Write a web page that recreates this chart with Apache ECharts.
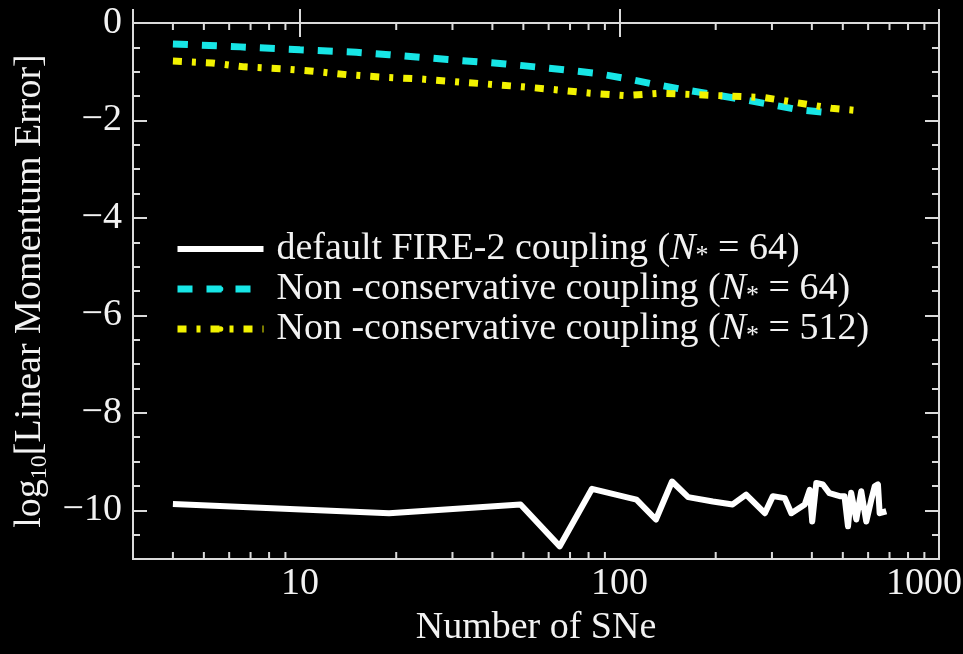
<!DOCTYPE html>
<html>
<head>
<meta charset="utf-8">
<script src="https://cdn.jsdelivr.net/npm/echarts@6/dist/echarts.min.js"></script>
<style>
  html, body { margin: 0; padding: 0; background: #000; }
  #chart { width: 963px; height: 654px; }
</style>
</head>
<body>
<div id="chart"></div>
<script>
// default FIRE-2 coupling, N* = 64
const fireX = [4, 19, 49, 65, 82, 113, 130, 146, 164, 196, 226, 249, 285, 302, 329, 345, 380, 394, 401, 413, 433, 454, 489, 506, 519, 531, 551, 571, 592, 614, 629, 644, 652, 684];
const fireY = [-9.87, -10.06, -9.88, -10.74, -9.56, -9.78, -10.19, -9.41, -9.73, -9.82, -9.88, -9.68, -10.06, -9.71, -9.75, -10.06, -9.88, -9.58, -10.23, -9.44, -9.47, -9.65, -9.71, -9.71, -10.33, -9.64, -10.19, -9.61, -10.23, -9.78, -9.51, -9.47, -10.06, -10.02];

// non-conservative coupling, N* = 64
const nc64X = [4, 6.5, 10, 15, 19, 29, 44, 67, 84, 103, 127, 157, 194, 239, 295, 364, 470];
const nc64Y = [-0.43, -0.49, -0.55, -0.60, -0.65, -0.75, -0.84, -0.96, -1.03, -1.13, -1.25, -1.36, -1.46, -1.56, -1.67, -1.78, -1.85];

// non-conservative coupling, N* = 512
const nc512X = [4, 5.3, 6.7, 8.7, 11, 14, 18, 24, 30, 38, 50, 63, 81, 104, 134, 173, 220, 284, 362, 461, 540];
const nc512Y = [-0.78, -0.82, -0.90, -0.94, -0.99, -1.06, -1.11, -1.15, -1.20, -1.25, -1.31, -1.37, -1.44, -1.49, -1.44, -1.47, -1.50, -1.53, -1.64, -1.75, -1.79];

// legend wording
const seriesLabels = ['default FIRE-2 coupling', 'Non -conservative coupling', 'Non -conservative coupling'];
const seriesNStar = [64, 64, 512];

// axis ticks
const yMajorTicks = [-10, -8, -6, -4, -2, 0];
const xMinorTicks = [4, 5, 6, 7, 8, 9, 20, 30, 40, 50, 60, 70, 80, 90, 200, 300, 400, 500, 600, 700, 800, 900];

const FONT = 'Liberation Serif';
const TEXT = '#f2f2f2';
const FRAME = '#dadada';

const names = seriesLabels.map((l, i) => `${l} (N* = ${seriesNStar[i]})`);
const pairs = (xs, ys) => xs.map((x, i) => [x, ys[i]]);

const chart = echarts.init(document.getElementById('chart'), null, { renderer: 'canvas' });

const tickStyle = { color: FRAME, width: 2 };

function yAxisDef(position, withLabels, major) {
  const ax = {
    type: 'value', min: -11, max: 0, position,
    axisLine: { show: false },
    splitLine: { show: false },
    axisTick: major
      ? { inside: true, length: 14, customValues: yMajorTicks, lineStyle: tickStyle }
      : { inside: true, length: 7, lineStyle: tickStyle },
    axisLabel: { show: false }
  };
  if (!major) ax.interval = 0.5;
  if (withLabels) {
    ax.axisLabel = {
      show: true, margin: 11, color: TEXT, fontFamily: FONT, fontSize: 38,
      formatter: v => (Number.isInteger(v) && v % 2 === 0) ? (v === 0 ? '0' : '\u2212' + Math.abs(v)) : ''
    };
    ax.name = '{a|log}{b|10}{a|[Linear Momentum Error]}';
    ax.nameLocation = 'middle';
    ax.nameRotate = 90;
    ax.nameGap = 64;
    ax.nameTextStyle = {
      color: TEXT, fontFamily: FONT, fontSize: 38,
      rich: {
        a: { color: TEXT, fontFamily: FONT, fontSize: 38, lineHeight: 44 },
        b: { color: TEXT, fontFamily: FONT, fontSize: 24, lineHeight: 44, verticalAlign: 'bottom', padding: [18, 0, 0, 0] }
      }
    };
  }
  return ax;
}

function isDecade(v) {
  const l = Math.log10(v);
  return Math.abs(l - Math.round(l)) < 1e-6 && Math.round(l) >= 1;
}

// short tick segments on both horizontal frame edges, broken by gaps
function tickSegments() {
  const len = 0.144; // about 7 px of the value axis
  const out = [];
  xMinorTicks.forEach(v => {
    out.push([v, -11], [v, -11 + len], [v, '-']);
    out.push([v, 0], [v, -len], [v, '-']);
  });
  return out;
}

const option = {
  backgroundColor: '#000',
  animation: false,
  grid: {
    left: 133, top: 23, width: 806, height: 536,
    outerBoundsMode: 'none', containLabel: false,
    show: true, borderColor: FRAME, borderWidth: 2, backgroundColor: 'transparent'
  },
  xAxis: [
    {
      type: 'log', logBase: 10, min: 3, max: 1000, position: 'bottom',
      axisLine: { show: false }, splitLine: { show: false },
      axisTick: { inside: true, length: 14, lineStyle: tickStyle },
      axisLabel: {
        margin: 6, color: TEXT, fontFamily: FONT, fontSize: 38,
        formatter: v => isDecade(v) ? (Math.round(v) === 1000 ? '{e|1000}' : String(Math.round(v))) : '',
        rich: { e: { color: TEXT, fontFamily: FONT, fontSize: 38, padding: [0, 30, 0, 0] } }
      },
      name: 'Number of SNe', nameLocation: 'middle', nameGap: 50,
      nameTextStyle: { color: TEXT, fontFamily: FONT, fontSize: 38 }
    },
    {
      type: 'log', logBase: 10, min: 3, max: 1000, position: 'top',
      axisLine: { show: false }, splitLine: { show: false },
      axisTick: { inside: true, length: 14, lineStyle: tickStyle },
      axisLabel: { show: false }
    }
  ],
  yAxis: [
    yAxisDef('left', true, false),
    yAxisDef('left', false, true),
    yAxisDef('right', false, false),
    yAxisDef('right', false, true)
  ],
  legend: {
    data: names,
    orient: 'vertical', left: 174, top: 229, padding: 0, itemGap: 0,
    itemWidth: 86, itemHeight: 7,
    selectedMode: false,
    lineStyle: { width: 'inherit' },
    textStyle: {
      color: TEXT, fontFamily: FONT, fontSize: 38, lineHeight: 40,
      rich: {
        p: { color: TEXT, fontFamily: FONT, fontSize: 38, lineHeight: 40, padding: [0, 0, 0, 8] },
        t: { color: TEXT, fontFamily: FONT, fontSize: 38, lineHeight: 40 },
        i: { color: TEXT, fontFamily: FONT, fontSize: 38, lineHeight: 40, fontStyle: 'italic' },
        s: { color: TEXT, fontFamily: FONT, fontSize: 26, lineHeight: 40, verticalAlign: 'bottom' }
      }
    },
    formatter: name => {
      const i = names.indexOf(name);
      return `{p|${seriesLabels[i]} (}{i|N}{s|*}{t| = ${seriesNStar[i]})}`;
    }
  },
  series: [
    {
      name: names[0], type: 'line', data: pairs(fireX, fireY),
      symbol: 'none', z: 3,
      itemStyle: { color: '#ffffff' },
      lineStyle: { color: '#ffffff', width: 6, join: 'round' }
    },
    {
      name: names[1], type: 'line', data: pairs(nc64X, nc64Y),
      symbol: 'none', z: 4,
      itemStyle: { color: '#17e6e6' },
      lineStyle: { color: '#17e6e6', width: 7, type: [15, 14], cap: 'butt' }
    },
    {
      name: names[2], type: 'line', data: pairs(nc512X, nc512Y),
      symbol: 'none', z: 5,
      itemStyle: { color: '#f2f200' },
      lineStyle: { color: '#f2f200', width: 7, type: [9, 10, 4, 10], cap: 'butt' }
    },
    // short ticks of the logarithmic axis on the bottom and top edges
    {
      name: 'minor ticks', type: 'line', silent: true, z: 20,
      data: tickSegments(), connectNulls: false, symbol: 'none', clip: false,
      lineStyle: { color: FRAME, width: 2 }, emphasis: { disabled: true }
    }
  ]
};

chart.setOption(option);
</script>
</body>
</html>
